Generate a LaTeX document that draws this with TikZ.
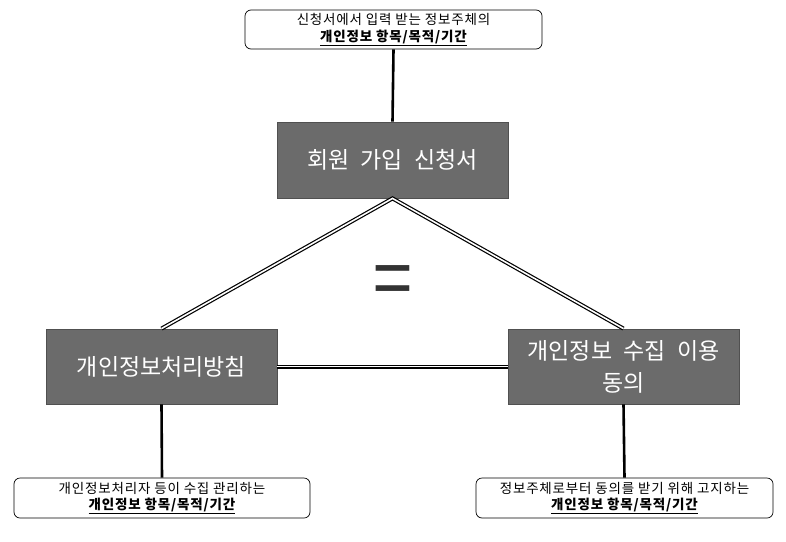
\documentclass[tikz,border=0pt]{standalone}
\usepackage{fontspec}
\setmainfont{Noto Sans CJK KR}
\newfontfamily\smallkr[LetterSpace=6]{Noto Sans CJK KR}
\newfontfamily\bigkr[WordSpace=2.2]{Noto Sans CJK KR}
\definecolor{boxgray}{HTML}{6B6B6B}
\definecolor{boxedge}{HTML}{505050}
\definecolor{eqgray}{HTML}{333333}
\begin{document}
\begin{tikzpicture}[x=1pt,y=-1pt,
  graybox/.style={draw=boxedge,line width=0.8pt,fill=boxgray,text=white,
    minimum width=231pt,align=center,inner sep=0pt,
    font=\bigkr\fontsize{23}{32}\selectfont},
  notebox/.style={draw=black,line width=0.7pt,rounded corners=6pt,fill=white,
    minimum width=297pt,minimum height=39pt,align=center,inner sep=0pt,
    font=\smallkr\fontsize{13.5}{16.5}\selectfont},
  stem/.style={line width=2.6pt,black},
  dbl/.style={draw=black,line width=1.2pt,double=white,double distance=1.6pt}]
\useasboundingbox (0,0) rectangle (786,541);
\node[notebox] (top) at (393.5,29.5) {신청서에서 입력 받는 정보주체의\\\textbf{\underline{개인정보 항목/목적/기간}}};
\node[graybox,minimum height=76pt] (main) at (392.5,160) {회원 가입 신청서};
\node[graybox,minimum height=75pt] (left) at (161.5,366.5) {개인정보처리방침};
\node[graybox,minimum height=75pt] (right) at (623.5,366.5) {개인정보 수집 이용\\동의};
\node[notebox,minimum width=296pt,minimum height=40pt] (bl) at (162,498) {개인정보처리자 등이 수집 관리하는\\\textbf{\underline{개인정보 항목/목적/기간}}};
\node[notebox,minimum height=40pt] (br) at (624.5,498) {정보주체로부터 동의를 받기 위해 고지하는\\\textbf{\underline{개인정보 항목/목적/기간}}};
\node[text=eqgray,inner sep=0pt,yscale=1.2,font=\fontsize{70}{70}\selectfont] (eq) at (393,288) {=};
\draw[stem] (top.south) -- (main.north);
\draw[stem] (left.south) -- (bl.north);
\draw[stem] (right.south) -- (br.north);
\draw[dbl] (left.north) -- (main.south) -- (right.north);
\draw[dbl] (left.east) -- (right.west);
\end{tikzpicture}
\end{document}
